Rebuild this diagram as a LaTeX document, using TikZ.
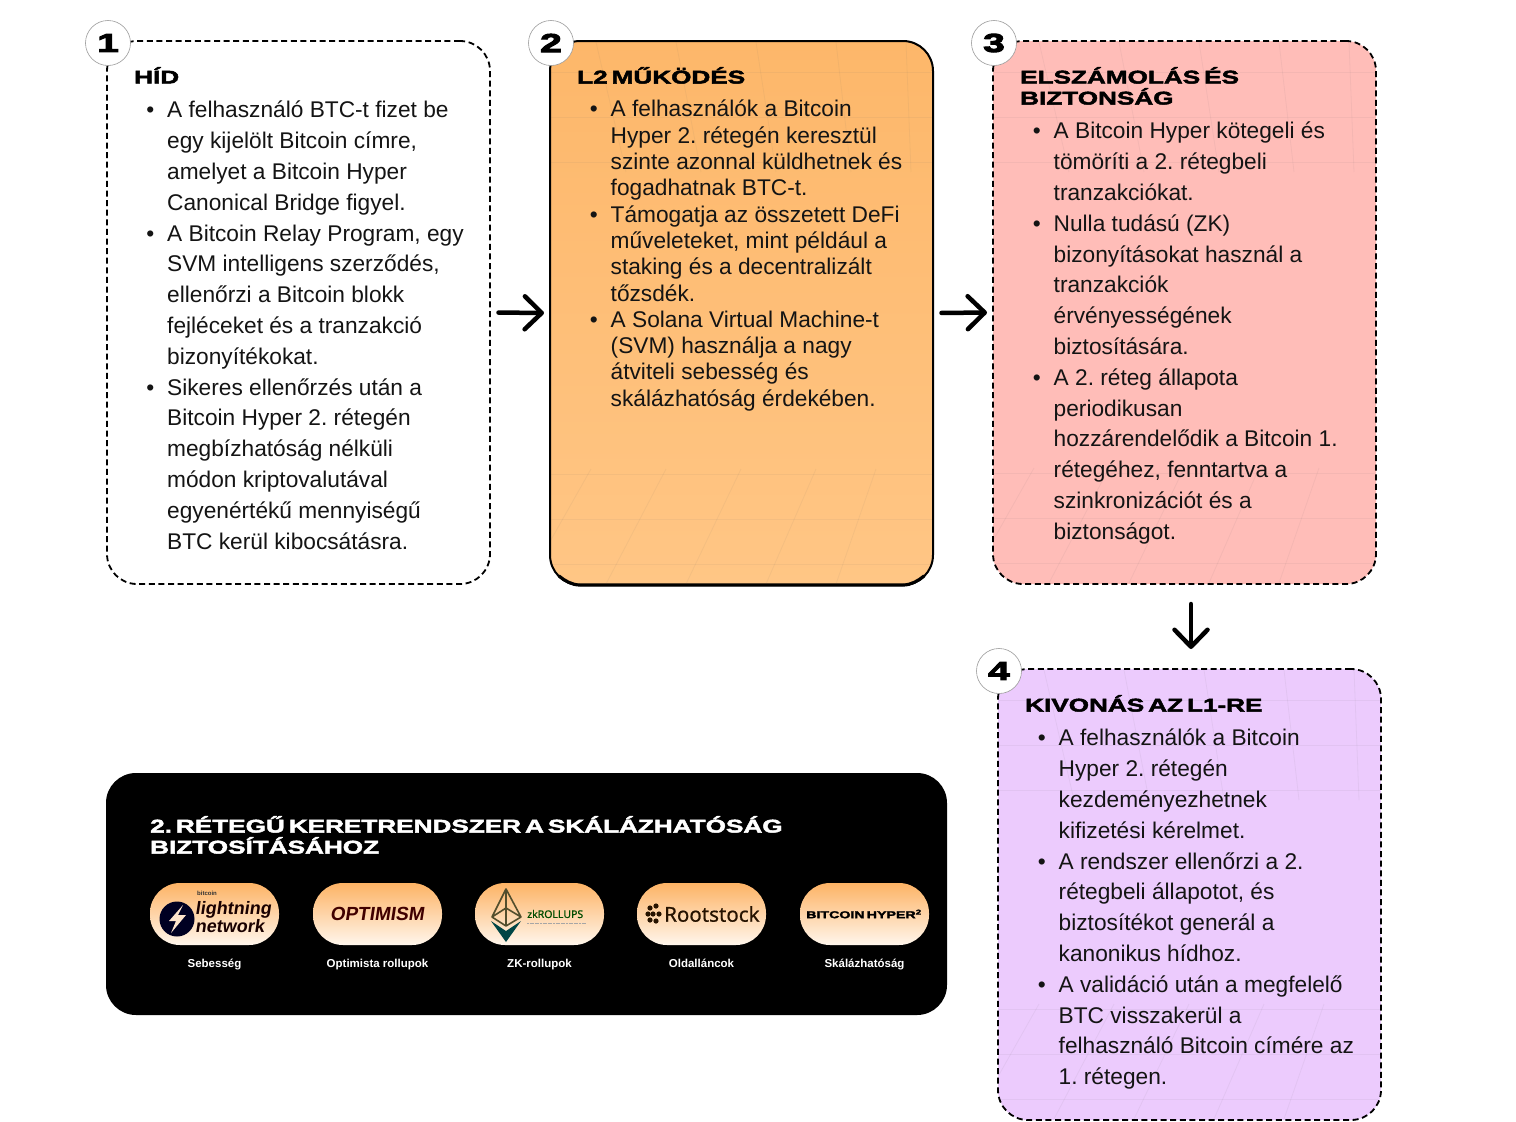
\documentclass[tikz,border=0pt]{standalone}
\usepackage{fontspec}
\usetikzlibrary{arrows.meta,calc,shadings}
\setmainfont{Liberation Sans}
\frenchspacing
\newfontfamily\headfont[UprightFont={* Bold},FakeStretch=1.42,FakeBold=2.6,WordSpace=0.55]{Liberation Sans}
\newfontfamily\numfont[UprightFont={* Bold},FakeStretch=1.5,FakeBold=4]{Liberation Sans}
\newfontfamily\logofont[UprightFont={* Bold},FakeSlant=0.15]{Liberation Sans}
\newfontfamily\capfont[UprightFont={* Bold}]{Liberation Sans}
\newfontfamily\rootfont[FakeBold=0.6]{Noto Sans}
\newfontfamily\zkfont[FakeBold=0.5]{Noto Sans}
\definecolor{cardorangeT}{HTML}{FDB76A}
\definecolor{cardorangeB}{HTML}{FFC685}
\definecolor{cardpink}{HTML}{FFBDB8}
\definecolor{cardlilac}{HTML}{ECCBFD}
\definecolor{pillT}{HTML}{FDB365}
\definecolor{pillB}{HTML}{FFF6EC}
\definecolor{ink}{HTML}{141414}
\pgfdeclareradialshading{badgeshade}{\pgfpoint{0bp}{3bp}}{color(0bp)=(white);color(37bp)=(white);color(43bp)=(black!18);color(50bp)=(black!60);color(60bp)=(black!60)}
\newcommand{\bul}{\leavevmode\llap{\textbullet\hspace{13pt}}}
\newcommand{\gridfan}[3]{% x-left, y-top, y-bottom of a card interior
  \foreach \a/\b in {45/75,125/150,205/225,285/300,355/360}{\draw[gridline] (#1+\a,#2) -- (#1+\b,#2+130);\draw[gridline] (#1+\b-35,#3-115) -- (#1+\a-70,#3);}
  \foreach \y in {30,75,120}{\draw[gridline] (#1,#2+\y) -- (#1+381,#2+\y);\draw[gridline] (#1,#3-\y+10) -- (#1+381,#3-\y+10);}}
\tikzset{
  card/.style={rounded corners=30pt,minimum width=383pt,inner sep=0,outer sep=0},
  dashcard/.style={card,draw=black,line width=1.8pt,dash pattern=on 6pt off 3.6pt},
  head/.style={anchor=north west,inner sep=0,align=left,text=black,font=\headfont\fontsize{18.4}{21}\selectfont},
  body/.style={anchor=north west,inner sep=0,align=left,text=ink},
  flow/.style={line width=4.5pt,line cap=round,line join=round,-{Straight Barb[length=17pt,width=33pt,round]}},
  badge/.style={circle,minimum size=45pt,inner sep=0,shade,shading=badgeshade,draw=black!40,line width=.6pt,font=\numfont\fontsize{26}{26}\selectfont,text=black},
  pill/.style={rounded corners=30pt,minimum width=129pt,minimum height=62pt,inner sep=0,top color=pillT,bottom color=pillB},
  pillcap/.style={anchor=base,text=white,inner sep=0,font=\capfont\fontsize{11.5}{12}\selectfont},
  gridline/.style={line width=.8pt,draw=black!60,opacity=.07},
}
\begin{document}
\begin{tikzpicture}[x=1pt,y=-1pt]
\useasboundingbox (0,0) rectangle (1516,1122);
\fill[white] (0,0) rectangle (1516,1122);
% cards
\node[dashcard,fill=white,minimum height=543pt,anchor=north west] (c1) at (107,41) {};
\node[card,anchor=north west,minimum height=544pt,draw=black,line width=2pt,top color=cardorangeT,bottom color=cardorangeB] (c2) at (550,41) {};
\node[dashcard,fill=cardpink,minimum height=543pt,anchor=north west] (c3) at (993,41) {};
\node[dashcard,fill=cardlilac,minimum height=451pt,anchor=north west] (c4) at (998,669) {};
\draw[line width=3.2pt,line cap=round] (559,576) .. controls (565,581) and (572,585) .. (580,585) -- (903,585) .. controls (911,585) and (918,581) .. (924,576);
% faint grids
\begin{scope}
\clip[rounded corners=30pt] (551,42) rectangle (932,584);
\gridfan{551}{42}{584}
\end{scope}
\begin{scope}
\clip[rounded corners=30pt] (994,42) rectangle (1375,583);
\gridfan{994}{42}{583}
\end{scope}
\begin{scope}
\clip[rounded corners=30pt] (999,670) rectangle (1380,1119);
\gridfan{999}{670}{1119}
\end{scope}
% badges
\node[badge] (b1) at (108,43) {1};
\node[badge] (b2) at (551,43) {2};
\node[badge] (b3) at (994,43) {3};
\node[badge] (b4) at (999,671) {4};
% headings
\node[head] (h1) at (134,67) {HÍD};
\node[head] (h2) at (577,67) {L2 MŰKÖDÉS};
\node[head] (h3) at (1020,67) {ELSZÁMOLÁS ÉS\\BIZTONSÁG};
\node[head] (h4) at (1025,695) {KIVONÁS AZ L1-RE};
% bodies
\node[body,font=\fontsize{22.7}{30.8}\selectfont] (t1) at (167,101) {\bul A felhasználó BTC-t fizet be\\egy kijelölt Bitcoin címre,\\amelyet a Bitcoin Hyper\\Canonical Bridge figyel.\\\bul A Bitcoin Relay Program, egy\\SVM intelligens szerződés,\\ellenőrzi a Bitcoin blokk\\fejléceket és a tranzakció\\bizonyítékokat.\\\bul Sikeres ellenőrzés után a\\Bitcoin Hyper 2. rétegén\\megbízhatóság nélküli\\módon kriptovalutával\\egyenértékű mennyiségű\\BTC kerül kibocsátásra.};
\node[body,font=\fontsize{22.7}{26.3}\selectfont] (t2) at (610.5,100) {\bul A felhasználók a Bitcoin\\Hyper 2. rétegén keresztül\\szinte azonnal küldhetnek és\\fogadhatnak BTC-t.\\\bul Támogatja az összetett DeFi\\műveleteket, mint például a\\staking és a decentralizált\\tőzsdék.\\\bul A Solana Virtual Machine-t\\(SVM) használja a nagy\\átviteli sebesség és\\skálázhatóság érdekében.};
\node[body,font=\fontsize{22.7}{30.8}\selectfont] (t3) at (1053.5,122) {\bul A Bitcoin Hyper kötegeli és\\tömöríti a 2. rétegbeli\\tranzakciókat.\\\bul Nulla tudású (ZK)\\bizonyításokat használ a\\tranzakciók\\érvényességének\\biztosítására.\\\bul A 2. réteg állapota\\periodikusan\\hozzárendelődik a Bitcoin 1.\\rétegéhez, fenntartva a\\szinkronizációt és a\\biztonságot.};
\node[body,font=\fontsize{22.7}{30.8}\selectfont] (t4) at (1058.5,729) {\bul A felhasználók a Bitcoin\\Hyper 2. rétegén\\kezdeményezhetnek\\kifizetési kérelmet.\\\bul A rendszer ellenőrzi a 2.\\rétegbeli állapotot, és\\biztosítékot generál a\\kanonikus hídhoz.\\\bul A validáció után a megfelelő\\BTC visszakerül a\\felhasználó Bitcoin címére az\\1. rétegen.};
% arrows
\coordinate (ax) at (1191,0);
\draw[flow,shorten <=8.5pt,shorten >=6pt] (c1.east) -- (c2.west);
\draw[flow,shorten <=8.5pt,shorten >=6pt] (c2.east) -- (c3.west);
\draw[flow,shorten <=20pt,shorten >=20pt] (c3.south -| ax) -- (c4.north -| ax);
% panel
\node[rounded corners=30pt,fill=black,minimum width=841pt,minimum height=242pt,anchor=north west,inner sep=0,outer sep=0] (panel) at (106,773) {};
\node[head,text=white] (ph) at (150,816) {2. RÉTEGŰ KERETRENDSZER A SKÁLÁZHATÓSÁG\\BIZTOSÍTÁSÁHOZ};
\node[pill] (p1) at (214.5,914) {};
\node[pill] (p2) at (377.5,914) {};
\node[pill] (p3) at (539.5,914) {};
\node[pill] (p4) at (701.5,914) {};
\node[pill] (p5) at (864.5,914) {};
\node[pillcap] (l1) at (214.5,967) {Sebesség};
\node[pillcap] (l2) at (377.5,967) {Optimista rollupok};
\node[pillcap] (l3) at (539.5,967) {ZK-rollupok};
\node[pillcap] (l4) at (701.5,967) {Oldalláncok};
\node[pillcap] (l5) at (864.5,967) {Skálázhatóság};
% logos
\fill[black!25!blue!18!black] (177,919) circle (17.5);
\fill[white!80!orange] (183,905) -- (169,921) -- (176,921) -- (171,933) -- (186,915) -- (178,915) -- cycle;
\node[inner sep=0,font=\logofont\fontsize{18}{18}\selectfont,align=left,text=black!90!red,anchor=west] (lnet) at (195,917) {lightning\\network};
\node[inner sep=0,font=\capfont\fontsize{6}{6}\selectfont,text=black!80] (lbit) at (207,893) {bitcoin};
\node[inner sep=0,font=\logofont\fontsize{19}{19}\selectfont,text=black!75!red] (lopt) at (377,914) {OPTIMISM};
\draw[line width=1.6pt,draw=black!55!olive,line join=round] (506,889) -- (492,917) -- (506,926) -- (521,917) -- cycle (506,889) -- (506,926) (492,917) -- (506,908) -- (521,917);
\fill[black!45!teal] (491,921) -- (506,931) -- (521,921) -- (506,942) -- cycle;
\node[inner sep=0,font=\zkfont\fontsize{10.5}{11}\selectfont,text=black!70!green,anchor=west] (lzk) at (527,914) {zkROLLUPS};
\draw[line width=.9pt,draw=black!35,dash pattern=on 2pt off .6pt] (527,923) -- (586,923);
\node[inner sep=0,font=\rootfont\fontsize{20.5}{22}\selectfont,text=black!85!orange,anchor=west] (lroot) at (664,914) {Rootstock};
\foreach \p in {(650,908),(656,906),(650,920),(656,921),(648,914),(653,914),(659,914)}{\fill[black!85!orange] \p circle (2.6);}
\node[inner sep=0,font=\headfont\fontsize{10}{10}\selectfont,text=black] (lhyp) at (864,914) {BITCOIN HYPER\textsuperscript{2}};
\end{tikzpicture}
\end{document}
